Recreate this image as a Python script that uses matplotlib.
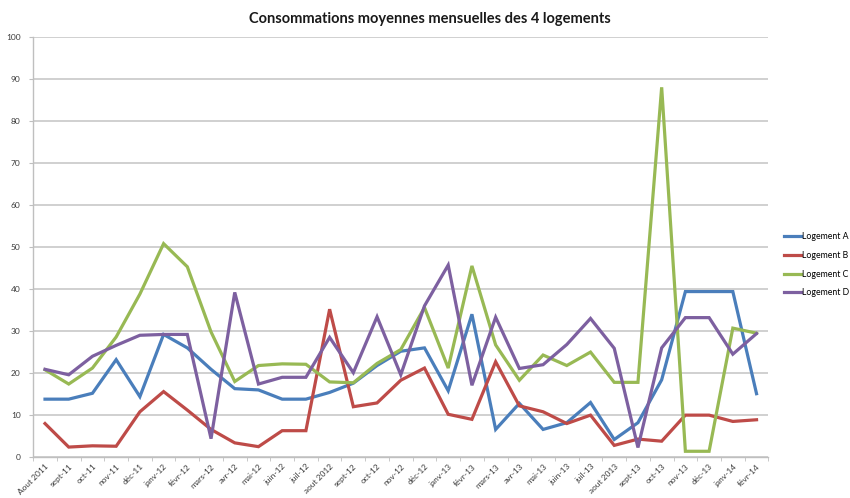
"""
Consommations moyennes mensuelles des 4 logements
(courbes mensuelles, aout 2011 -> fevrier 2014)
"""

import matplotlib.pyplot as plt
from matplotlib.ticker import MultipleLocator, FixedLocator

mois = ["Aout 2011", "sept-11", "oct-11", "nov-11", "déc-11", "janv-12",
        "févr-12", "mars-12", "avr-12", "mai-12", "juin-12", "juil-12",
        "aout 2012", "sept-12", "oct-12", "nov-12", "déc-12", "janv-13",
        "févr-13", "mars-13", "avr-13", "mai-13", "juin-13", "juil-13",
        "aout 2013", "sept-13", "oct-13", "nov-13", "déc-13", "janv-14",
        "févr-14"]

logement_a = [13.8, 13.8, 15.2, 23.2, 14.4, 29.2, 26.0, 20.9, 16.3, 16.0,
              13.8, 13.8, 15.4, 17.6, 21.8, 25.2, 26.0, 15.8, 34.0, 6.6,
              12.8, 6.6, 8.2, 13.0, 4.2, 8.2, 18.4, 39.4, 39.4, 39.4, 15.1]
logement_b = [8.0, 2.4, 2.7, 2.6, 10.8, 15.6, 11.2, 6.6, 3.4, 2.5,
              6.3, 6.3, 35.2, 12.0, 12.9, 18.3, 21.2, 10.2, 9.0, 22.7,
              12.2, 10.8, 8.0, 10.0, 2.8, 4.3, 3.8, 10.0, 10.0, 8.5, 8.9]
logement_c = [20.8, 17.4, 21.2, 28.6, 38.8, 50.8, 45.3, 29.8, 18.0, 21.8,
              22.2, 22.1, 17.9, 17.7, 22.3, 25.6, 35.6, 21.2, 45.5, 26.7,
              18.3, 24.3, 21.8, 25.0, 17.8, 17.8, 88.0, 1.4, 1.4, 30.7, 29.5]
logement_d = [20.9, 19.6, 24.0, 26.6, 29.0, 29.2, 29.2, 4.4, 39.2, 17.4,
              19.0, 19.0, 28.5, 20.1, 33.4, 19.6, 36.0, 45.7, 17.1, 33.3,
              21.1, 22.0, 26.8, 33.0, 25.9, 2.3, 26.0, 33.2, 33.2, 24.5, 29.4]

series = [("Logement A", logement_a, "#4a7ebb"),
          ("Logement B", logement_b, "#be4b48"),
          ("Logement C", logement_c, "#98b954"),
          ("Logement D", logement_d, "#7d60a0")]


def main():
    plt.rcParams["font.family"] = ["Lato", "DejaVu Sans"]
    fig = plt.figure(figsize=(8.5, 4.98), dpi=100)
    ax = fig.add_axes([0.039, 0.082, 0.865, 0.844])

    x = list(range(len(mois)))
    for nom, vals, col in series:
        ax.plot(x, vals, color=col, lw=2.3, label=nom, solid_joinstyle="miter")

    ax.set_xlim(-0.5, len(mois) - 0.5)
    ax.set_ylim(0, 100)
    ax.yaxis.set_major_locator(MultipleLocator(10))
    ax.grid(axis="y", color="#c4c4c4", lw=1.1)
    ax.set_axisbelow(True)

    # category labels in the middle, tick marks between categories
    ax.set_xticks(x)
    ax.set_xticklabels(mois, rotation=45, ha="right", rotation_mode="anchor",
                       fontsize=6.0, color="#3a3a3a")
    ax.tick_params(axis="x", which="major", length=0, pad=4)
    ax.xaxis.set_minor_locator(FixedLocator([i - 0.5 for i in range(len(mois) + 1)]))
    ax.tick_params(axis="x", which="minor", length=3, color="#bfbfbf")
    ax.tick_params(axis="y", length=3, color="#bfbfbf", labelsize=6,
                   labelcolor="#3a3a3a", pad=6)

    for s in ["top", "right"]:
        ax.spines[s].set_visible(False)
    for s in ["left", "bottom"]:
        ax.spines[s].set_color("#bfbfbf")
        ax.spines[s].set_linewidth(1.0)

    fig.text(0.506, 0.962, "Consommations moyennes mensuelles des 4 logements",
             ha="center", va="center", fontsize=10.5, fontweight="bold",
             color="#1a1a1a")

    fig.legend(loc="center left", bbox_to_anchor=(0.918, 0.468), frameon=False,
               fontsize=6.3, handlelength=2.0, handletextpad=0.1,
               labelspacing=1.1, borderaxespad=0)

    plt.savefig("out.png", dpi=100)


main()
